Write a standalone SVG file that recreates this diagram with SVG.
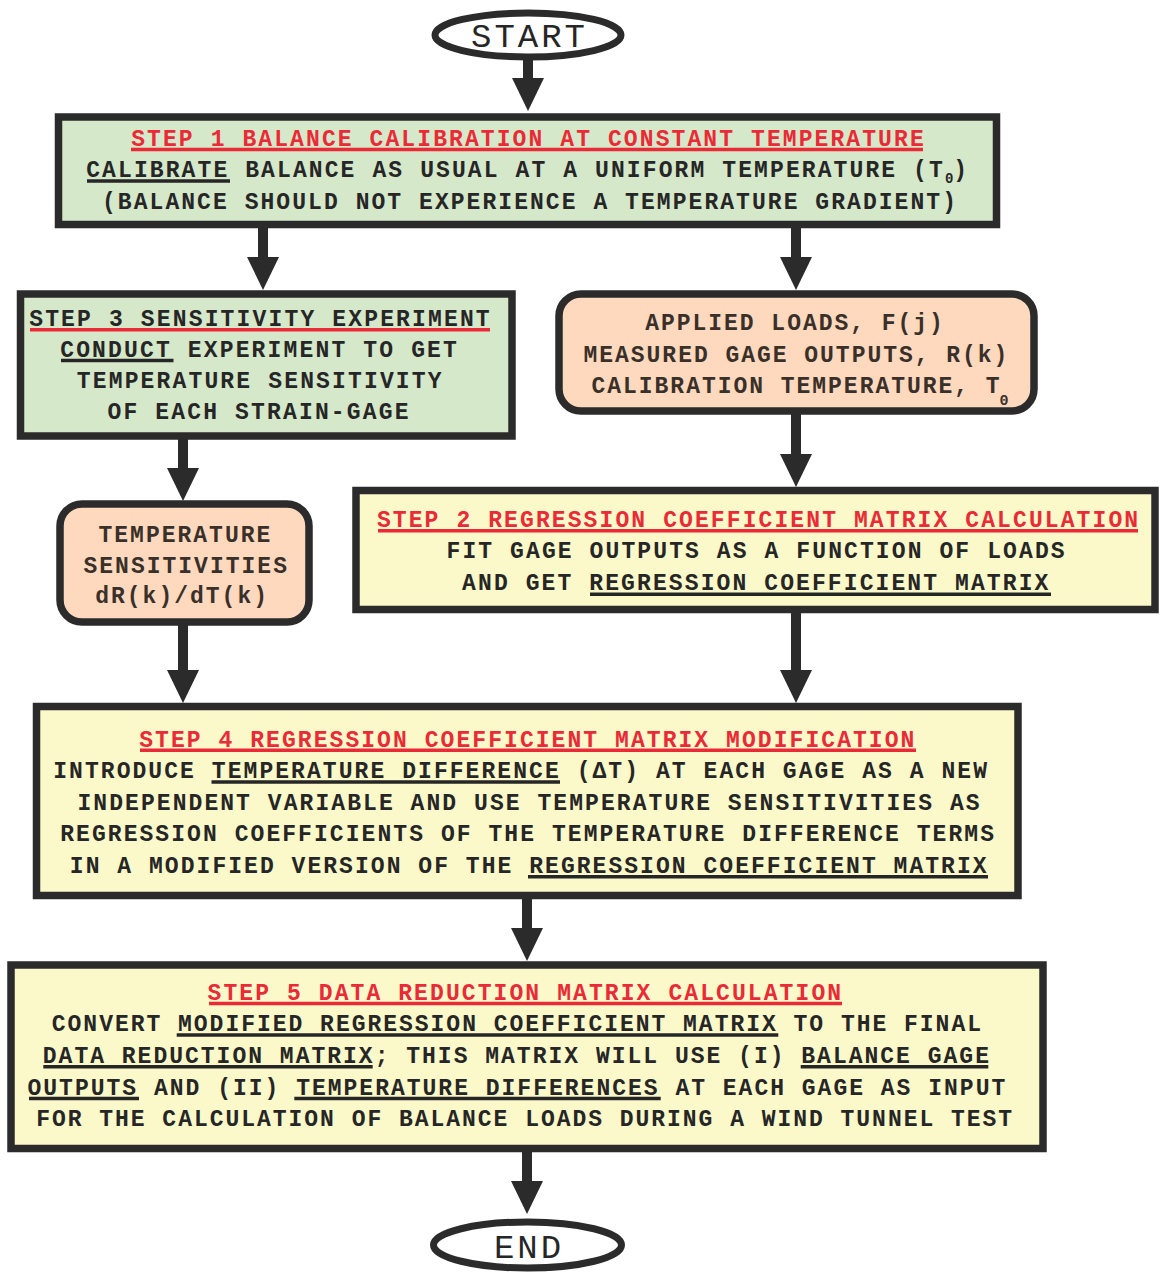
<svg xmlns="http://www.w3.org/2000/svg" width="1160" height="1274" viewBox="0 0 1160 1274">
<style>
.t{font-family:"Liberation Mono","DejaVu Sans Mono",monospace;font-size:23px;font-weight:bold;fill:#262626}
.p{fill:#3a302a}
.r{fill:#ea2a36}
.ul{stroke:#262626;stroke-width:3.5}
.ulr{stroke:#ea2a36;stroke-width:3.5}
.box{stroke:#2b2b2b;stroke-width:7.5}
.g{fill:#d6e8ca}
.y{fill:#fbf9c9}
.pe{fill:#ffd9be}
.term{fill:#ffffff;stroke:#2b2b2b;stroke-width:7}
.tt{font-family:"Liberation Mono","DejaVu Sans Mono",monospace;font-size:34px;fill:#262626;letter-spacing:3px}
.c{stroke:#2b2b2b;stroke-width:10;fill:none}
</style>
<defs>
<marker id="ah" markerUnits="userSpaceOnUse" markerWidth="34" markerHeight="34" viewBox="0 -17 34 34" refX="1" refY="0" orient="auto">
<path d="M0,-16 L33,0 L0,16 z" fill="#2b2b2b"/>
</marker>
</defs>
<rect width="1160" height="1274" fill="#ffffff"/>

<g id="connectors">
<line class="c" x1="528" y1="58" x2="528" y2="79" marker-end="url(#ah)"/>
<line class="c" x1="263" y1="226" x2="263" y2="258" marker-end="url(#ah)"/>
<line class="c" x1="796" y1="226" x2="796" y2="258" marker-end="url(#ah)"/>
<line class="c" x1="183" y1="438" x2="183" y2="469" marker-end="url(#ah)"/>
<line class="c" x1="796" y1="413" x2="796" y2="455" marker-end="url(#ah)"/>
<line class="c" x1="183" y1="624" x2="183" y2="671" marker-end="url(#ah)"/>
<line class="c" x1="796" y1="611" x2="796" y2="671" marker-end="url(#ah)"/>
<line class="c" x1="527" y1="897" x2="527" y2="929" marker-end="url(#ah)"/>
<line class="c" x1="527" y1="1150" x2="527" y2="1182" marker-end="url(#ah)"/>
</g>

<g id="start">
<ellipse class="term" cx="528" cy="35" rx="93" ry="22"/>
<text class="tt" x="529.5" y="47" text-anchor="middle">START</text>
</g>

<g id="step1">
<rect class="box g" x="58.5" y="117" width="938" height="107.5"/>
<text class="t r" x="131.2" y="145.5" letter-spacing="2.09">STEP 1 BALANCE CALIBRATION AT CONSTANT TEMPERATURE</text>
<line class="ulr" x1="131" y1="149.5" x2="923" y2="149.5"/>
<text class="t" x="86.2" y="177" letter-spacing="2.1">CALIBRATE BALANCE AS USUAL AT A UNIFORM TEMPERATURE (T<tspan font-size="14" dy="6" letter-spacing="0">0</tspan><tspan dy="-6">)</tspan></text>
<line class="ul" x1="87" y1="181" x2="230" y2="181"/>
<text class="t" x="102" y="209" letter-spacing="2.05">(BALANCE SHOULD NOT EXPERIENCE A TEMPERATURE GRADIENT)</text>
</g>

<g id="step3">
<rect class="box g" x="20.5" y="294" width="491.5" height="142"/>
<text class="t" x="29.2" y="325.5" letter-spacing="2.15">STEP 3 SENSITIVITY EXPERIMENT</text>
<line class="ulr" x1="30" y1="329.8" x2="490" y2="329.8"/>
<text class="t" x="60.2" y="356.5" letter-spacing="2.15">CONDUCT EXPERIMENT TO GET</text>
<line class="ul" x1="61" y1="360.5" x2="173.5" y2="360.5"/>
<text class="t" x="76.8" y="388" letter-spacing="2.15">TEMPERATURE SENSITIVITY</text>
<text class="t" x="107.5" y="419" letter-spacing="2.15">OF EACH STRAIN-GAGE</text>
</g>

<g id="inputs">
<rect class="box pe" x="559" y="294" width="475" height="117" rx="22" ry="22"/>
<text class="t p" x="645.2" y="330" letter-spacing="1.97">APPLIED LOADS, F(j)</text>
<text class="t p" x="583.5" y="362" letter-spacing="1.97">MEASURED GAGE OUTPUTS, R(k)</text>
<text class="t p" x="591.5" y="393" letter-spacing="1.97">CALIBRATION TEMPERATURE, T<tspan dx="-2" dy="12" font-size="15" letter-spacing="0">0</tspan></text>
</g>

<g id="sensitivities">
<rect class="box pe" x="60" y="504" width="249" height="118" rx="22" ry="22"/>
<text class="t p" x="98.5" y="541.5" letter-spacing="2">TEMPERATURE</text>
<text class="t p" x="83.5" y="572.5" letter-spacing="2">SENSITIVITIES</text>
<text class="t p" x="95.2" y="602.5" letter-spacing="2">dR(k)/dT(k)</text>
</g>

<g id="step2">
<rect class="box y" x="356" y="490.5" width="799" height="119"/>
<text class="t r" x="376.9" y="526.7" letter-spacing="2.1">STEP 2 REGRESSION COEFFICIENT MATRIX CALCULATION</text>
<line class="ulr" x1="378" y1="530.8" x2="1138" y2="530.8"/>
<text class="t" x="446.5" y="558.3" letter-spacing="2.1">FIT GAGE OUTPUTS AS A FUNCTION OF LOADS</text>
<text class="t" x="462.1" y="590" letter-spacing="2.1">AND GET REGRESSION COEFFICIENT MATRIX</text>
<line class="ul" x1="590" y1="594.2" x2="1051" y2="594.2"/>
</g>

<g id="step4">
<rect class="box y" x="36.5" y="706.5" width="981.5" height="189"/>
<text class="t r" x="139.2" y="746.5" letter-spacing="2.06">STEP 4 REGRESSION COEFFICIENT MATRIX MODIFICATION</text>
<line class="ulr" x1="140" y1="750.3" x2="916" y2="750.3"/>
<text class="t" x="53.2" y="778" letter-spacing="2.06">INTRODUCE TEMPERATURE DIFFERENCE (ΔT) AT EACH GAGE AS A NEW</text>
<line class="ul" x1="211.5" y1="782" x2="560" y2="782"/>
<text class="t" x="77.5" y="809.5" letter-spacing="2.06">INDEPENDENT VARIABLE AND USE TEMPERATURE SENSITIVITIES AS</text>
<text class="t" x="60.2" y="841" letter-spacing="2.06">REGRESSION COEFFICIENTS OF THE TEMPERATURE DIFFERENCE TERMS</text>
<text class="t" x="69.8" y="872.7" letter-spacing="2.04">IN A MODIFIED VERSION OF THE REGRESSION COEFFICIENT MATRIX</text>
<line class="ul" x1="528" y1="876.7" x2="988" y2="876.7"/>
</g>

<g id="step5">
<rect class="box y" x="11" y="965" width="1032" height="183.5"/>
<text class="t r" x="207.5" y="999.5" letter-spacing="2.09">STEP 5 DATA REDUCTION MATRIX CALCULATION</text>
<line class="ulr" x1="209" y1="1003.5" x2="842" y2="1003.5"/>
<text class="t" x="51.8" y="1031" letter-spacing="1.98">CONVERT MODIFIED REGRESSION COEFFICIENT MATRIX TO THE FINAL</text>
<line class="ul" x1="176.7" y1="1035" x2="778.3" y2="1035"/>
<text class="t" x="42.8" y="1062.7" letter-spacing="2">DATA REDUCTION MATRIX; THIS MATRIX WILL USE (I) BALANCE GAGE</text>
<line class="ul" x1="43.3" y1="1066.7" x2="372.7" y2="1066.7"/>
<line class="ul" x1="800.7" y1="1066.7" x2="988.3" y2="1066.7"/>
<text class="t" x="27.5" y="1094.5" letter-spacing="2">OUTPUTS AND (II) TEMPERATURE DIFFERENCES AT EACH GAGE AS INPUT</text>
<line class="ul" x1="29" y1="1098.5" x2="139" y2="1098.5"/>
<line class="ul" x1="294.3" y1="1098.5" x2="660.7" y2="1098.5"/>
<text class="t" x="36.2" y="1125.7" letter-spacing="1.97">FOR THE CALCULATION OF BALANCE LOADS DURING A WIND TUNNEL TEST</text>
</g>

<g id="end">
<ellipse class="term" cx="527.5" cy="1245" rx="94" ry="23"/>
<text class="tt" x="529" y="1258" text-anchor="middle">END</text>
</g>
</svg>
